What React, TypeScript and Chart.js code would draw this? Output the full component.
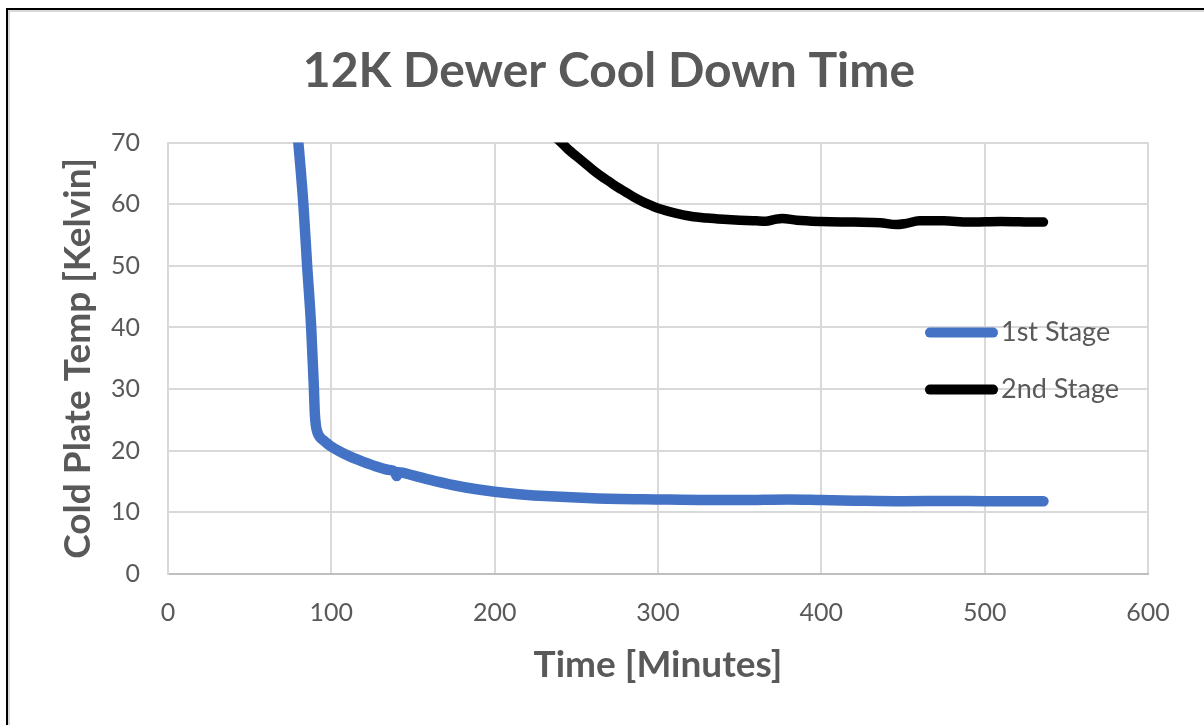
import React, { useEffect, useRef } from "react";
import { Chart, registerables } from "chart.js";

Chart.register(...registerables);

const TITLE = "12K Dewer Cool Down Time";
const X_TITLE = "Time [Minutes]";
const Y_TITLE = "Cold Plate Temp [Kelvin]";
const SERIES_NAMES = ["1st Stage", "2nd Stage"];
const SERIES_COLORS = ["#4472C4", "#000000"];

const X_MIN = 0;
const X_MAX = 600;
const X_STEP = 100;
const Y_MIN = 0;
const Y_MAX = 70;
const Y_STEP = 10;

// 1st stage (minutes, kelvin)
const stage1Time = [
  77, 79.8, 82.8, 85.2, 87.6, 89.2, 89.9, 90.6, 91.6, 93, 96, 99.2, 105, 112, 119.6, 127, 135, 139,
  140, 141, 150, 160, 175, 189, 200, 215, 234, 260, 300, 330, 350, 380, 400, 420, 450, 480, 500, 520, 536,
];
const stage1Temp = [
  78, 70, 60.3, 50, 40.3, 31, 26, 24, 22.9, 22.2, 21.5, 20.8, 19.9, 19.0, 18.2, 17.5, 16.9, 16.6,
  15.9, 16.5, 16.0, 15.3, 14.4, 13.75, 13.35, 12.95, 12.6, 12.3, 12.1, 12.0, 12.0, 12.1, 12.0, 11.9, 11.8, 11.85, 11.8, 11.8, 11.8,
];

// 2nd stage (minutes, kelvin)
const stage2Time = [
  234, 240, 245, 250, 255, 260, 265, 270, 275, 280, 285, 290, 295, 300, 310, 320, 330, 340, 350, 360,
  366, 371, 376, 385, 400, 420, 436, 446, 452, 460, 475, 490, 510, 532, 536,
];
const stage2Temp = [
  71.5, 70.2, 68.9, 67.8, 66.7, 65.6, 64.6, 63.7, 62.8, 62.0, 61.2, 60.5, 59.9, 59.35, 58.6, 58.05, 57.75, 57.55, 57.4, 57.3,
  57.25, 57.5, 57.7, 57.4, 57.2, 57.1, 57.0, 56.7, 56.9, 57.3, 57.3, 57.1, 57.2, 57.1, 57.1,
];

const toPoints = (xs: number[], ys: number[]) => xs.map((x, i) => ({ x, y: ys[i] }));

const FONT = "Lato, 'Open Sans', sans-serif";
const TEXT_COLOR = "#595959";

const legendPlugin = {
  id: "insideLegend",
  afterDraw(chart: any) {
    const { ctx, chartArea } = chart;
    const x0 = chartArea.right - 223;
    const y0 = chartArea.top + 190;
    const gap = 57;
    ctx.save();
    chart.data.datasets.forEach((ds: any, i: number) => {
      const y = y0 + i * gap;
      ctx.beginPath();
      ctx.strokeStyle = ds.borderColor;
      ctx.lineWidth = 10;
      ctx.lineCap = "round";
      ctx.moveTo(x0 + 5, y);
      ctx.lineTo(x0 + 68, y);
      ctx.stroke();
      ctx.fillStyle = TEXT_COLOR;
      ctx.font = `27px ${FONT}`;
      ctx.textAlign = "left";
      ctx.textBaseline = "middle";
      ctx.fillText(ds.label, x0 + 76, y);
    });
    ctx.restore();
  },
};

export default function App() {
  const ref = useRef<HTMLCanvasElement | null>(null);

  useEffect(() => {
    if (!ref.current) return;
    const lineStyle = {
      pointRadius: 0,
      cubicInterpolationMode: "monotone",
      borderCapStyle: "round",
      borderJoinStyle: "round",
      clip: 0,
    };
    const chart = new Chart(ref.current, {
      type: "line",
      data: {
        datasets: [
          {
            label: SERIES_NAMES[0],
            data: toPoints(stage1Time, stage1Temp),
            borderColor: SERIES_COLORS[0],
            backgroundColor: SERIES_COLORS[0],
            borderWidth: 10.5,
            ...lineStyle,
          },
          {
            label: SERIES_NAMES[1],
            data: toPoints(stage2Time, stage2Temp),
            borderColor: SERIES_COLORS[1],
            backgroundColor: SERIES_COLORS[1],
            borderWidth: 9.5,
            ...lineStyle,
          },
        ],
      },
      options: {
        responsive: false,
        animation: false,
        devicePixelRatio: 1,
        layout: { padding: { left: 14, right: 0, top: 0, bottom: 0 } },
        plugins: {
          legend: { display: false },
          tooltip: { enabled: false },
          title: {
            display: true,
            text: TITLE,
            color: TEXT_COLOR,
            font: { family: FONT, size: 48, weight: "bold" },
            padding: { top: 43, bottom: 42 },
          },
        },
        scales: {
          x: {
            type: "linear",
            min: X_MIN,
            max: X_MAX,
            afterFit: (s: any) => {
              s.height = 151;
            },
            ticks: {
              stepSize: X_STEP,
              color: TEXT_COLOR,
              font: { family: FONT, size: 25 },
              padding: 24,
              maxRotation: 0,
            },
            grid: { color: "#d9d9d9", lineWidth: 2, drawTicks: false },
            border: { color: "#bfbfbf", width: 2 },
            title: {
              display: true,
              text: X_TITLE,
              color: TEXT_COLOR,
              font: { family: FONT, size: 37, weight: "bold" },
              padding: { top: 0, bottom: 38 },
            },
          },
          y: {
            type: "linear",
            position: "left",
            min: Y_MIN,
            max: Y_MAX,
            afterFit: (s: any) => {
              s.width = 154;
            },
            ticks: {
              stepSize: Y_STEP,
              color: TEXT_COLOR,
              font: { family: FONT, size: 25 },
              padding: 28,
            },
            grid: { color: "#d9d9d9", lineWidth: 2, drawTicks: false },
            border: { color: "#d9d9d9", width: 2 },
            title: {
              display: true,
              text: Y_TITLE,
              color: TEXT_COLOR,
              font: { family: FONT, size: 37, weight: "bold" },
              padding: { top: 42, bottom: 0 },
            },
          },
          yRightSpace: {
            type: "linear",
            position: "right",
            min: Y_MIN,
            max: Y_MAX,
            afterFit: (s: any) => {
              s.width = 56;
            },
            ticks: { display: false },
            grid: { display: false, drawTicks: false },
            border: { display: false },
          },
        },
      },
      plugins: [legendPlugin],
    } as any);
    return () => chart.destroy();
  }, []);

  return (
    <div
      style={{
        position: "absolute",
        left: 0,
        top: 0,
        width: 1204,
        height: 725,
        overflow: "hidden",
        background: "#ffffff",
      }}
    >
      <canvas ref={ref} width={1204} height={725} style={{ position: "absolute", left: 0, top: 0 }} />
      <div
        style={{
          position: "absolute",
          left: 6,
          top: 8,
          width: 1400,
          height: 900,
          borderLeft: "2px solid #000",
          borderTop: "2px solid #000",
          pointerEvents: "none",
        }}
      >
        <div
          style={{
            position: "absolute",
            left: 0,
            top: 0,
            width: 1400,
            height: 900,
            borderLeft: "2px solid #d9d9d9",
            borderTop: "2px solid #d9d9d9",
          }}
        />
      </div>
    </div>
  );
}
